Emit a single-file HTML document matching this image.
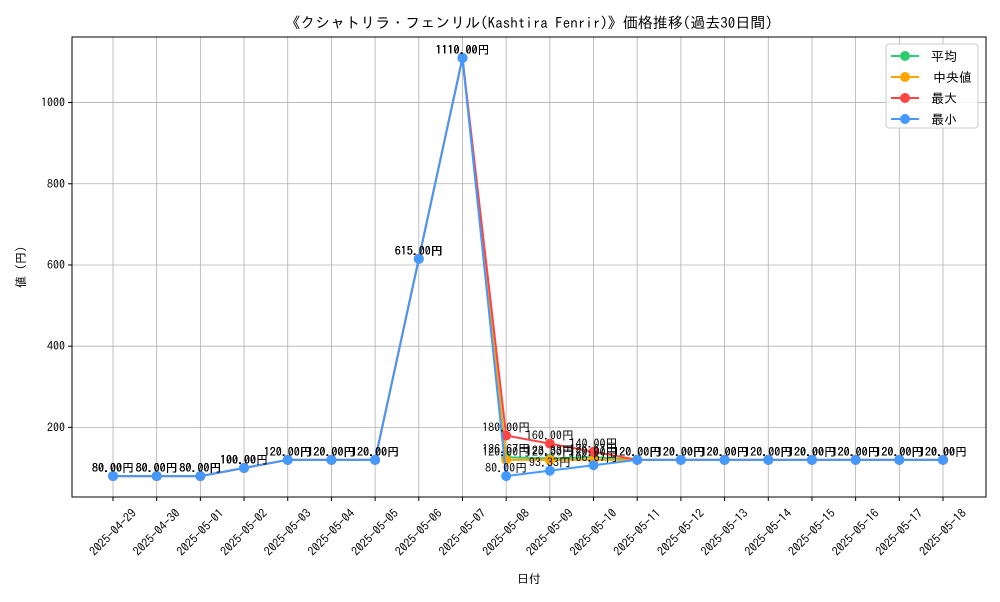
<!DOCTYPE html>
<html><head><meta charset="utf-8"><style>
body{margin:0;background:#fff;font-family:"IPAGothic","Noto Sans CJK JP",sans-serif}
svg text{font-family:"IPAGothic","Noto Sans CJK JP",sans-serif}
</style></head><body>
<svg id="c" width="1000" height="600" xmlns="http://www.w3.org/2000/svg"></svg>
<script>
const categories=["2025-04-29","2025-04-30","2025-05-01","2025-05-02","2025-05-03","2025-05-04","2025-05-05","2025-05-06","2025-05-07","2025-05-08","2025-05-09","2025-05-10","2025-05-11","2025-05-12","2025-05-13","2025-05-14","2025-05-15","2025-05-16","2025-05-17","2025-05-18"];
const avgValues=[80,80,80,100,120,120,120,615,1110,126.67,123.33,126.67,120,120,120,120,120,120,120,120];
const medianValues=[80,80,80,100,120,120,120,615,1110,120,120,120,120,120,120,120,120,120,120,120];
const maxValues=[80,80,80,100,120,120,120,615,1110,180,160,140,120,120,120,120,120,120,120,120];
const minValues=[80,80,80,100,120,120,120,615,1110,80,93.33,106.67,120,120,120,120,120,120,120,120];
const yTicks=[200,400,600,800,1000];
const seriesNames=["平均","中央値","最大","最小"];
const seriesColors=["#2ecc71","#ffa500","#ff4444","#4499ff"];

const svg=document.getElementById('c');
const NS="http://www.w3.org/2000/svg";
const L=72,R=986,T=37,B=497;
const yMin=28.5,yMax=1161.5;
const xs=i=>113+i*(943-113)/(categories.length-1);
const ys=v=>B-(v-yMin)/(yMax-yMin)*(B-T);
function mk(tag,attrs,parent){const e=document.createElementNS(NS,tag);for(const k in attrs)e.setAttribute(k,attrs[k]);(parent||svg).appendChild(e);return e;}

categories.forEach((c,i)=>{
  const g=mk('line',{x1:xs(i),x2:xs(i),y1:T,y2:B,stroke:'#b0b0b0','stroke-width':0.8});
  
  
  mk('line',{x1:xs(i),x2:xs(i),y1:B,y2:B+4,stroke:'#000'});
  const ax=xs(i)+24, ay=B+17;
  const t=mk('text',{x:ax,y:ay,'font-size':12,'text-anchor':'end',transform:`rotate(-45 ${ax} ${ay})`});
  t.textContent=c;
  
  
});
yTicks.forEach(v=>{
  const g=mk('line',{x1:L,x2:R,y1:ys(v),y2:ys(v),stroke:'#b0b0b0','stroke-width':0.8});
  
  
  mk('line',{x1:L-4,x2:L,y1:ys(v),y2:ys(v),stroke:'#000'});
  const t=mk('text',{x:L-7,y:ys(v)+4,'font-size':12,'text-anchor':'end'});
  t.textContent=v;
  
  
});
const fr=mk('rect',{x:L,y:T,width:R-L,height:B-T,fill:'none',stroke:'#000','stroke-width':1});



const all=[avgValues,medianValues,maxValues,minValues];
all.forEach((vals,s)=>{
  const g=mk('g',{});
  
  
  mk('polyline',{points:vals.map((v,i)=>xs(i)+','+ys(v)).join(' '),fill:'none',stroke:seriesColors[s],'stroke-width':2},g);
  vals.forEach((v,i)=>{
    const p=mk('circle',{cx:xs(i),cy:ys(v),r:5,fill:seriesColors[s]},g);
    
    
  });
});
all.forEach((vals,s)=>{
  vals.forEach((v,i)=>{
    const t=mk('text',{x:xs(i),y:ys(v)-4,'font-size':12,'text-anchor':'middle',fill:'#000'});
    t.textContent=v.toFixed(2)+'円';
    
    
  });
});

const title=mk('text',{x:529,y:28,'font-size':15,'text-anchor':'middle'});
title.textContent='《クシャトリラ・フェンリル(Kashtira Fenrir)》価格推移(過去30日間)';


const xt=mk('text',{x:529,y:583,'font-size':12,'text-anchor':'middle'});
xt.textContent='日付';


const yt=mk('text',{x:25,y:267,'font-size':12,'text-anchor':'middle',transform:'rotate(-90 25 267)'});
yt.textContent='値 (円)';



const lg=mk('g',{});


mk('rect',{x:886,y:44,width:92,height:84,rx:3,fill:'#fff','fill-opacity':0.85,stroke:'#ccc'},lg);
seriesNames.forEach((n,s)=>{
  const y=56+s*21;
  const e=mk('g',{},lg);
  
  
  mk('line',{x1:891,x2:919,y1:y,y2:y,stroke:seriesColors[s],'stroke-width':2},e);
  mk('circle',{cx:905,cy:y,r:5,fill:seriesColors[s]},e);
  const t=mk('text',{x:s==1?933:931,y:y+5,'font-size':13},e);
  t.textContent=n;
});
</script>
</body></html>
